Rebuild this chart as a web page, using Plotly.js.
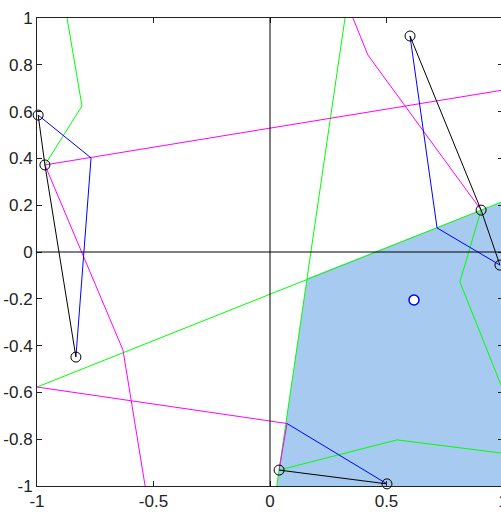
<!DOCTYPE html>
<html><head><meta charset="utf-8">
<script src="https://cdn.plot.ly/plotly-3.0.1.min.js"></script>
<style>html,body{margin:0;padding:0;overflow:hidden;background:#fff}#c{width:520px;height:512px}</style>
</head><body><div id="c"></div>
<script>
// Sites (black circles)
const siteX = [-0.995, -0.966, -0.833, 0.601, 0.906, 0.987, 0.039, 0.502];
const siteY = [0.585, 0.372, -0.449, 0.923, 0.179, -0.056, -0.932, -0.991];
// Black edges
const blackX = [-0.995, -0.966, -0.833, null, 0.601, 0.906, 0.987, null, 0.039, 0.502];
const blackY = [0.585, 0.372, -0.449, null, 0.923, 0.179, -0.056, null, -0.932, -0.991];
// Blue edges
const blueX = [-0.995, -0.768, -0.833, null, 0.601, 0.717, 0.987, null, 0.073, 0.502];
const blueY = [0.585, 0.402, -0.449, null, 0.923, 0.103, -0.056, null, -0.733, -0.991];
// Magenta edges
const magX = [-0.966, 1.0, null, -0.966, -0.631, -0.536, null, -1.0, 0.073, 0.039, null, 0.356, 0.42, 0.906];
const magY = [0.372, 0.692, null, 0.372, -0.419, -1.0, null, -0.577, -0.733, -0.932, null, 1.0, 0.842, 0.179];
// Green edges
const grnX = [-0.871, -0.807, -0.966, null, -1.0, 0.906, 1.0, null, 0.322, 0.039, 0.029, null, 0.039, 0.545, 1.0, null, 0.906, 0.815, 1.0];
const grnY = [1.0, 0.624, 0.372, null, -0.577, 0.179, 0.216, null, 1.0, -0.932, -1.0, null, -0.932, -0.803, -0.86, null, 0.179, -0.128, -0.59];
// Filled region
const fillX = [0.029, 0.159, 1.0, 1.0];
const fillY = [-1.0, -0.112, 0.216, -1.0];
// Highlighted point
const hlX = [0.618];
const hlY = [-0.205];

const ln = (x, y, c) => ({x, y, type: 'scatter', mode: 'lines', line: {color: c, width: 1}, hoverinfo: 'skip', showlegend: false});

const data = [
  {x: fillX, y: fillY, type: 'scatter', mode: 'lines', fill: 'toself', fillcolor: '#a6caf0', line: {width: 0}, showlegend: false, hoverinfo: 'skip'},
  ln(grnX, grnY, '#00ff00'),
  ln(magX, magY, '#ff00ff'),
  ln(blueX, blueY, '#0000ff'),
  ln(blackX, blackY, '#000000'),
  {x: siteX, y: siteY, type: 'scatter', mode: 'markers', cliponaxis: false,
   marker: {symbol: 'circle-open', size: 10, color: '#000', line: {width: 1, color: '#000'}}, showlegend: false},
  {x: hlX, y: hlY, type: 'scatter', mode: 'markers',
   marker: {symbol: 'circle', size: 10, color: '#fff', line: {width: 1.5, color: '#0000ff'}}, showlegend: false}
];

const axBase = {
  range: [-1, 1], showgrid: false, zeroline: false, showline: true, linecolor: '#222', linewidth: 1,
  mirror: 'ticks', ticks: 'inside', ticklen: 5, tickcolor: '#222', tickwidth: 1,
  tickfont: {family: 'Liberation Sans, Arial, sans-serif', size: 17, color: '#222'}
};

const layout = {
  width: 520, height: 512,
  margin: {l: 37, r: 17, t: 18, b: 26},
  paper_bgcolor: '#fff', plot_bgcolor: '#fff',
  xaxis: Object.assign({}, axBase, {tickvals: [-1, -0.5, 0, 0.5, 1], ticktext: ['-1', '-0.5', '0', '0.5', '1']}),
  yaxis: Object.assign({}, axBase, {tickvals: [-1, -0.8, -0.6, -0.4, -0.2, 0, 0.2, 0.4, 0.6, 0.8, 1],
    ticktext: ['-1', '-0.8', '-0.6', '-0.4', '-0.2', '0', '0.2', '0.4', '0.6', '0.8', '1']}),
  shapes: [
    {type: 'line', xref: 'x', yref: 'paper', x0: 0, x1: 0, y0: 0, y1: 1, line: {color: '#000', width: 1}, layer: 'above'},
    {type: 'line', xref: 'paper', yref: 'y', x0: 0, x1: 1, y0: 0, y1: 0, line: {color: '#000', width: 1}, layer: 'above'}
  ]
};

Plotly.newPlot('c', data, layout, {staticPlot: true, displayModeBar: false});
</script></body></html>
